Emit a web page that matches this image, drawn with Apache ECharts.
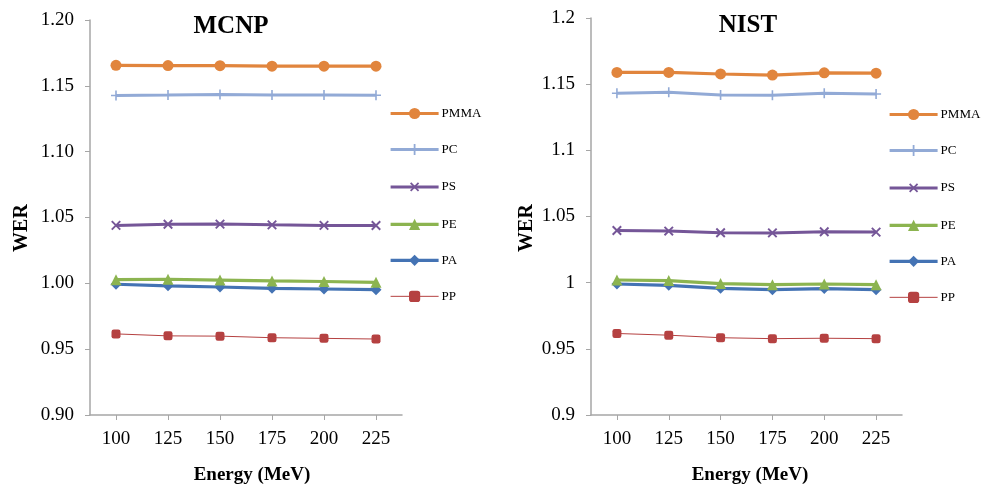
<!DOCTYPE html>
<html>
<head>
<meta charset="utf-8">
<script src="https://cdn.jsdelivr.net/npm/echarts@6/dist/echarts.min.js"></script>
<style>
html,body{margin:0;padding:0;background:#fff;}
#c{width:982px;height:493px;}
</style>
</head>
<body>
<div id="c"></div>
<script>
var energies = ['100', '125', '150', '175', '200', '225'];
var seriesNames = ['PMMA', 'PC', 'PS', 'PE', 'PA', 'PP'];

// MCNP
var mcnpPMMA = [1.1656, 1.1654, 1.1653, 1.1649, 1.1649, 1.1649];
var mcnpPC   = [1.1427, 1.1430, 1.1434, 1.1431, 1.1430, 1.1428];
var mcnpPS   = [1.0440, 1.0449, 1.0450, 1.0444, 1.0440, 1.0439];
var mcnpPE   = [1.0028, 1.0031, 1.0025, 1.0018, 1.0014, 1.0008];
var mcnpPA   = [0.9993, 0.9981, 0.9972, 0.9962, 0.9957, 0.9952];
var mcnpPP   = [0.9616, 0.9601, 0.9599, 0.9587, 0.9582, 0.9577];

// NIST
var nistPMMA = [1.1589, 1.1589, 1.1577, 1.1569, 1.1586, 1.1583];
var nistPC   = [1.1431, 1.1438, 1.1418, 1.1417, 1.1431, 1.1426];
var nistPS   = [1.0394, 1.0390, 1.0377, 1.0376, 1.0385, 1.0382];
var nistPE   = [1.0020, 1.0016, 0.9993, 0.9985, 0.9990, 0.9985];
var nistPA   = [0.9990, 0.9980, 0.9957, 0.9947, 0.9955, 0.9947];
var nistPP   = [0.9616, 0.9603, 0.9584, 0.9577, 0.9580, 0.9577];

var yTicksLeft = ['0.90', '0.95', '1.00', '1.05', '1.10', '1.15', '1.20'];
var yTicksRight = ['0.9', '0.95', '1', '1.05', '1.1', '1.15', '1.2'];

var colors = {
  PMMA: '#E1853D', PC: '#92AAD6', PS: '#755698',
  PE: '#8CB450', PA: '#4473B4', PP: '#B54141'
};
var crossPath = 'path://M0,4.2 L10,4.2 L10,5.8 L0,5.8 Z M4.2,0 L5.8,0 L5.8,10 L4.2,10 Z';
var styles = {
  PMMA: { symbol: 'circle', symbolSize: 11, width: 3.2, rotate: 0 },
  PC:   { symbol: crossPath, symbolSize: 10, width: 3, rotate: 0 },
  PS:   { symbol: crossPath, symbolSize: 12, width: 3, rotate: 45 },
  PE:   { symbol: 'triangle', symbolSize: 11, width: 3.2, rotate: 0 },
  PA:   { symbol: 'diamond', symbolSize: 11, width: 3.2, rotate: 0 },
  PP:   { symbol: 'roundRect', symbolSize: 9, width: 1, rotate: 0 }
};

var serif = '"Liberation Serif", "Times New Roman", serif';
var axisGray = '#A6A6A6';

function makeSeries(name, data, idx) {
  var s = styles[name];
  return {
    name: name,
    type: 'line',
    xAxisIndex: idx,
    yAxisIndex: idx,
    data: data,
    symbol: s.symbol,
    symbolSize: s.symbolSize,
    symbolRotate: s.rotate,
    showAllSymbol: true,
    animation: false,
    itemStyle: { color: colors[name] },
    lineStyle: { color: colors[name], width: s.width },
    z: 10 - seriesNames.indexOf(name)
  };
}

var leftData = [mcnpPMMA, mcnpPC, mcnpPS, mcnpPE, mcnpPA, mcnpPP];
var rightData = [nistPMMA, nistPC, nistPS, nistPE, nistPA, nistPP];
var series = [];
seriesNames.forEach(function (n, i) { series.push(makeSeries(n, leftData[i], 0)); });
seriesNames.forEach(function (n, i) { series.push(makeSeries(n, rightData[i], 1)); });

function xAxis(gi) {
  return {
    type: 'category', gridIndex: gi, data: energies, boundaryGap: true,
    axisLine: { show: true, lineStyle: { color: axisGray, width: 1.5 } },
    axisTick: { show: true, alignWithLabel: true, length: 5, lineStyle: { color: axisGray } },
    axisLabel: { color: '#000', fontFamily: serif, fontSize: 19, margin: 15 },
    splitLine: { show: false }
  };
}
function yAxis(gi, labels) {
  return {
    type: 'value', gridIndex: gi, min: 0.9, max: 1.2, interval: 0.05,
    axisLine: { show: true, lineStyle: { color: axisGray, width: 1.5 } },
    axisTick: { show: true, length: 5, lineStyle: { color: axisGray } },
    axisLabel: {
      color: '#000', fontFamily: serif, fontSize: 19, margin: 16,
      formatter: function (v) {
        var k = Math.round((v - 0.9) / 0.05);
        return labels[k];
      }
    },
    splitLine: { show: false }
  };
}
function legend(left, top) {
  return {
    data: seriesNames.map(function (n) {
      return {
        name: n,
        lineStyle: { width: styles[n].width, color: colors[n] },
        itemStyle: { color: colors[n] }
      };
    }),
    orient: 'vertical', left: left, top: top, padding: 0,
    itemWidth: 48, itemHeight: 14, itemGap: 23,
    textStyle: { fontFamily: serif, fontSize: 13, color: '#000', padding: [0, 0, 0, -2] },
    selectedMode: false
  };
}

var chart = echarts.init(document.getElementById('c'), null, { renderer: 'canvas' });
chart.setOption({
  backgroundColor: '#fff',
  animation: false,
  grid: [
    { left: 90, top: 20, width: 312, height: 395 },
    { left: 591, top: 18, width: 311, height: 397 }
  ],
  xAxis: [xAxis(0), xAxis(1)],
  yAxis: [yAxis(0, yTicksLeft), yAxis(1, yTicksRight)],
  legend: [legend(389, 107), legend(888, 108)],
  series: series,
  graphic: [
    { type: 'text', x: 231, y: 27, style: { text: 'MCNP', font: 'bold 25px ' + serif, fill: '#000', textAlign: 'center', textVerticalAlign: 'middle' } },
    { type: 'text', x: 748, y: 26, style: { text: 'NIST', font: 'bold 25px ' + serif, fill: '#000', textAlign: 'center', textVerticalAlign: 'middle' } },
    { type: 'text', x: 22, y: 228, rotation: Math.PI / 2, style: { text: 'WER', font: 'bold 20px ' + serif, fill: '#000', textAlign: 'center', textVerticalAlign: 'middle' } },
    { type: 'text', x: 527, y: 228, rotation: Math.PI / 2, style: { text: 'WER', font: 'bold 20px ' + serif, fill: '#000', textAlign: 'center', textVerticalAlign: 'middle' } },
    { type: 'text', x: 252, y: 475, style: { text: 'Energy (MeV)', font: 'bold 19px ' + serif, fill: '#000', textAlign: 'center', textVerticalAlign: 'middle' } },
    { type: 'text', x: 750, y: 475, style: { text: 'Energy (MeV)', font: 'bold 19px ' + serif, fill: '#000', textAlign: 'center', textVerticalAlign: 'middle' } }
  ]
});
</script>
</body>
</html>
